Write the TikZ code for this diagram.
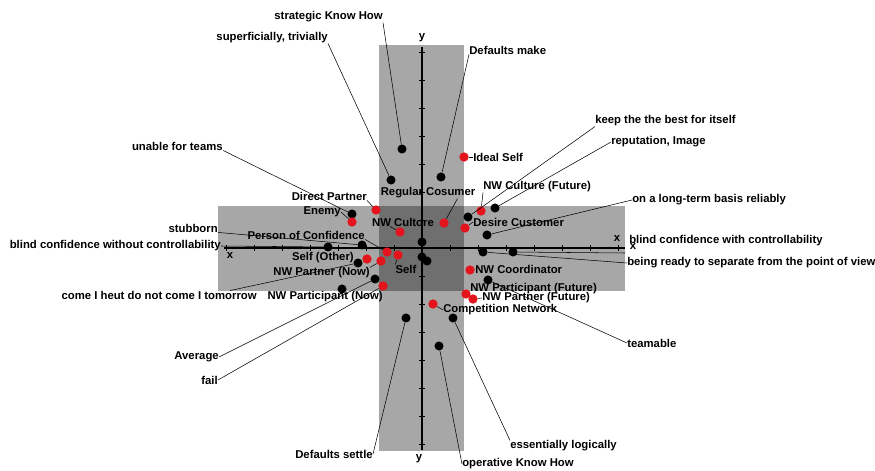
\documentclass[tikz,border=0pt]{standalone}
\usepackage{fontspec}
\setmainfont{Liberation Sans}
\usetikzlibrary{calc}
\definecolor{band}{HTML}{A7A7A7}
\definecolor{core}{HTML}{6F6F6F}
\definecolor{mark}{HTML}{E3141B}

\begin{document}
\begin{tikzpicture}[x=0.75pt,y=-0.75pt,
  lbl/.style={font=\fontsize{8.5}{10}\selectfont\bfseries,inner sep=0pt},
  bdot/.style={circle,fill=black,minimum size=6.8pt,inner sep=0pt},
  rdot/.style={circle,fill=mark,minimum size=7pt,inner sep=0pt},
  lead/.style={line width=0.4pt}]
\useasboundingbox (0,0) rectangle (875,471);
% bands
\fill[band] (379,45) rectangle (464,451);
\fill[band] (218,206) rectangle (625,291);
\fill[core] (379,206) rectangle (464,291);
% axes
\draw[line width=1pt] (224,248) -- (625,248);
\draw[line width=1pt] (422,47) -- (422,450);
\foreach \k in {0,...,14}{
  \draw[line width=0.6pt] (226+28*\k,245) -- (226+28*\k,251);
  \draw[line width=0.6pt] (419,52+28*\k) -- (425,52+28*\k);
}
\node[lbl] (xL) at (230,256) {x};
\node[lbl] (xR) at (617,239) {x};
\node[lbl] (xR2) at (633,247) {x};
\node[lbl] (yT) at (422,38) {y};
\node[lbl] (yB) at (419,459) {y};
% points
\foreach \n/\x/\y in {b1/402/149,b2/391/180,b3/441/177,b4/352/214,b5/328/247,b6/362/245,
  b7/422/242,b8/422/257,b9/427/261,b10/358/263,b11/375/279,b12/342/289,b13/468/217,
  b14/495/208,b15/487/235,b16/483/252,b17/513/252,b18/488/280,b19/453/318,b20/439/346,b21/406/318}
  \node[bdot] (\n) at (\x,\y) {};
\foreach \n/\x/\y in {r1/464/157,r2/444/223,r3/400/232,r4/376/210,r5/352/222,r6/387/252,
  r7/398/255,r8/367/259,r9/381/261,r10/383/286,r11/481/211,r12/465/228,r13/470/270,
  r14/466/294,r15/473/299,r16/433/304}
  \node[rdot] (\n) at (\x,\y) {};
% labels left
\node[lbl,anchor=east] (lStrat) at (383,17) {strategic Know How};
\node[lbl,anchor=east] (lSuper) at (328,38) {superficially, trivially};
\node[lbl,anchor=east] (lUnable) at (223,146) {unable for teams};
\node[lbl,anchor=east] (lDirect) at (367,196) {Direct Partner};
\node[lbl,anchor=east] (lEnemy) at (341,212) {Enemy};
\node[lbl,anchor=east] (lStub) at (218,228) {stubborn};
\node[lbl,anchor=east] (lBlindW) at (221,246) {blind confidence without controllability};
\node[lbl,anchor=east] (lPerson) at (365,235) {Person of Confidence};
\node[lbl,anchor=east] (lSelfO) at (354,258) {Self (Other)};
\node[lbl,anchor=east] (lPartNow) at (370,273) {NW Partner (Now)};
\node[lbl,anchor=east] (lComeI) at (257,295) {come I heut do not come I tomorrow};
\node[lbl,anchor=east] (lPartiNow) at (383,297) {NW Participant (Now)};
\node[lbl,anchor=east] (lAverage) at (219,357) {Average};
\node[lbl,anchor=east] (lFail) at (218,380) {fail};
\node[lbl,anchor=east] (lDefSet) at (373,454) {Defaults settle};
% labels middle
\node[lbl] (lRegular) at (428,193) {Regular Cosumer};
\node[lbl] (lCultore) at (403,222) {NW Cultore};
\node[lbl] (lSelf) at (406,269) {Self};
% labels right
\node[lbl,anchor=west] (lDefMake) at (469,50) {Defaults make};
\node[lbl,anchor=west] (lIdeal) at (473,157) {Ideal Self};
\node[lbl,anchor=west] (lKeep) at (595,121) {keep the the best for itself};
\node[lbl,anchor=west] (lRep) at (611,142) {reputation, Image};
\node[lbl,anchor=west] (lCultF) at (483,187) {NW Culture (Future)};
\node[lbl,anchor=west] (lLong) at (632,200) {on a long-term basis reliably};
\node[lbl,anchor=west] (lDesire) at (473,222) {Desire Customer};
\node[lbl,anchor=west] (lBlindC) at (629,241) {blind confidence with controllability};
\node[lbl,anchor=west] (lBeing) at (627,263) {being ready to separate from the point of view};
\node[lbl,anchor=west] (lCoord) at (475,269) {NW Coordinator};
\node[lbl,anchor=west] (lPartiF) at (470,289) {NW Participant (Future)};
\node[lbl,anchor=west] (lPartF) at (482,298) {NW Partner (Future)};
\node[lbl,anchor=west] (lCompet) at (443,310) {Competition Network};
\node[lbl,anchor=west] (lTeam) at (627,343) {teamable};
\node[lbl,anchor=west] (lEssen) at (510,446) {essentially logically};
\node[lbl,anchor=west] (lOper) at (462,464) {operative Know How};
\coordinate (cBlind) at (625,253);
% leaders
\draw[lead] (lStrat.south east) -- (b1);
\draw[lead] (lSuper.south east) -- (b2);
\draw[lead] (lDefMake.south west) -- (b3);
\draw[lead] (r1) -- (lIdeal.west);
\draw[lead] ($(lRegular.south east)+(-18,0)$) -- (r2);
\draw[lead] ($(lCultore.south west)+(18,0)$) -- (r3);
\draw[lead] (lDirect.south east) -- (r4);
\draw[lead] (lUnable.south east) -- (b4);
\draw[lead] (lEnemy.east) -- (r5);
\draw[lead] (lStub.south east) -- (b6);
\draw[lead] (lBlindW.east) -- (b5);
\draw[lead] (lPerson.south east) -- (r6);
\draw[lead] (lSelf.north west) -- (r7);
\draw[lead] (lPartNow.north east) -- (r9);
\draw[lead] ($(lComeI.north east)+(-27,0)$) -- (b10);
\draw[lead] (lAverage.east) -- (b11);
\draw[lead] (lFail.east) -- (r10);
\draw[lead] (lDefSet.east) -- (b21);
\draw[lead] (lOper.west) -- (b20);
\draw[lead] (lEssen.north west) -- (b19);
\draw[lead] (lTeam.west) -- (b18);
\draw[lead] (r16) -- (lCompet.west);
\draw[lead] (r15) -- (lPartF.west);
\draw[lead] (r13) -- (lCoord.west);
\draw[lead] (b16) -- (lBeing.west);
\draw[lead] (b17) -- (cBlind);
\draw[lead] (b15) -- (lLong.west);
\draw[lead] (r12) -- (lDesire.west);
\draw[lead] (lCultF.south west) -- (r11);
\draw[lead] (lKeep.south west) -- (b13);
\draw[lead] (lRep.west) -- (b14);
\end{tikzpicture}
\end{document}
